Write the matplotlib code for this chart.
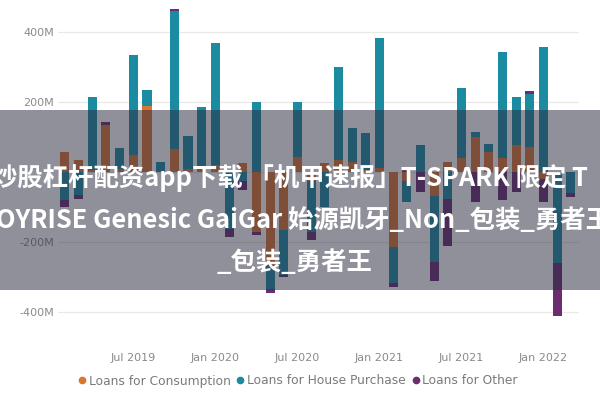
import numpy as np
import pandas as pd
import matplotlib
matplotlib.use("Agg")
import matplotlib.pyplot as plt
from matplotlib.patches import Rectangle
from matplotlib.lines import Line2D

# Monthly net lending flows (millions), Feb 2019 - Mar 2022
months = pd.period_range("2019-02", "2022-03", freq="M")
consumption = [57, 34, 5, 135, 8, 49, 188, 0, 65, 8, 5, 20,
               0, 26, -170, -265, -165, 43, -25, 26, 34, 29, 6, 12,
               -215, -25, 0, -68, 28, 40, 100, 57, 40, 77, 71, -20,
               0, 0]
house = [-80, -65, 210, 0, 62, 286, 45, 28, 394, 95, 180, 350,
         -163, -25, 200, -70, -128, 157, -145, -100, 266, 97, 105, 370,
         -103, -60, 77, -189, -77, 200, 14, 23, 303, 137, 151, 357,
         -260, -60]
other = [-20, -12, 0, 8, 0, 0, 0, 0, 8, 0, 0, 0,
         -23, -25, -10, -12, -8, 0, -25, 0, 0, 0, 0, 0,
         -11, 10, -57, -54, -134, 0, -85, 0, -80, -57, 10, -65,
         -150, -10]

series_names = ["Loans for Consumption", "Loans for House Purchase", "Loans for Other"]
series_colors = ["#DB7530", "#1A8BA0", "#6B2C72"]
tick_months = ["2019-07", "2020-01", "2020-07", "2021-01", "2021-07", "2022-01"]
tick_labels = ["Jul 2019", "Jan 2020", "Jul 2020", "Jan 2021", "Jul 2021", "Jan 2022"]
y_ticks = [-400, -200, 0, 200, 400]
y_labels = ["-400M", "-200M", "", "200M", "400M"]

banner_lines = ["炒股杠杆配资app下载 「机甲速报」T-SPARK 限定 T",
                "OYRISE Genesic GaiGar 始源凯牙_Non_包装_勇者王",
                "_包装_勇者王"]

fig = plt.figure(figsize=(6, 4), dpi=100)
ax = fig.add_axes([58 / 600, 1 - 336.5 / 400, (579 - 58) / 600, (336.5 - 5.75) / 400])

x = np.arange(len(months))
pos_base = np.zeros(len(months))
neg_base = np.zeros(len(months))
for vals, color in zip([consumption, house, other], series_colors):
    v = np.asarray(vals, dtype=float)
    base = np.where(v >= 0, pos_base, neg_base)
    ax.bar(x, v, bottom=base, width=0.66, color=color, linewidth=0, zorder=3)
    pos_base += np.where(v > 0, v, 0)
    neg_base += np.where(v < 0, v, 0)

ax.set_xlim(-0.51, 37.6)
ax.set_ylim(-470, 475)
ax.set_yticks(y_ticks)
ax.set_yticklabels(y_labels)
tick_pos = [list(months.strftime("%Y-%m")).index(m) for m in tick_months]
ax.set_xticks(tick_pos)
ax.set_xticklabels(tick_labels)
ax.tick_params(axis="both", length=0, labelsize=8, labelcolor="#8a8a8a")
ax.tick_params(axis="x", pad=12)
ax.tick_params(axis="y", pad=3)
ax.yaxis.grid(True, color="#e8e8e8", linewidth=0.9, zorder=0)
ax.set_axisbelow(True)
for s in ax.spines.values():
    s.set_visible(False)

handles = [Line2D([], [], marker="o", linestyle="", color=c, markersize=4.5)
           for c in series_colors]
fig.legend(handles, series_names, loc="center", bbox_to_anchor=(0.497, 1 - 381 / 400),
           ncol=3, frameon=False, fontsize=8.8, labelcolor="#7a7a7a",
           handlelength=0.6, handletextpad=0.25, columnspacing=0.5)

# Caption banner across the middle
fig.add_artist(Rectangle((0, 1 - 290 / 400), 1, 180 / 400, transform=fig.transFigure,
                         facecolor="#2b2b40", alpha=0.52, linewidth=0, zorder=10))
cjk = ["Noto Sans CJK SC", "DejaVu Sans"]
fig.text(-8 / 600, 1 - 178 / 400, banner_lines[0], ha="left", va="center", color="white",
         fontsize=18.3, fontweight="bold", family=cjk, zorder=11)
fig.text(-4 / 600, 1 - 220 / 400, banner_lines[1], ha="left", va="center", color="white",
         fontsize=18.3, fontweight="bold", family=cjk, zorder=11)
fig.text(295 / 600, 1 - 262 / 400, banner_lines[2], ha="center", va="center", color="white",
         fontsize=18.3, fontweight="bold", family=cjk, zorder=11)

fig.savefig("out.png", dpi=100)
